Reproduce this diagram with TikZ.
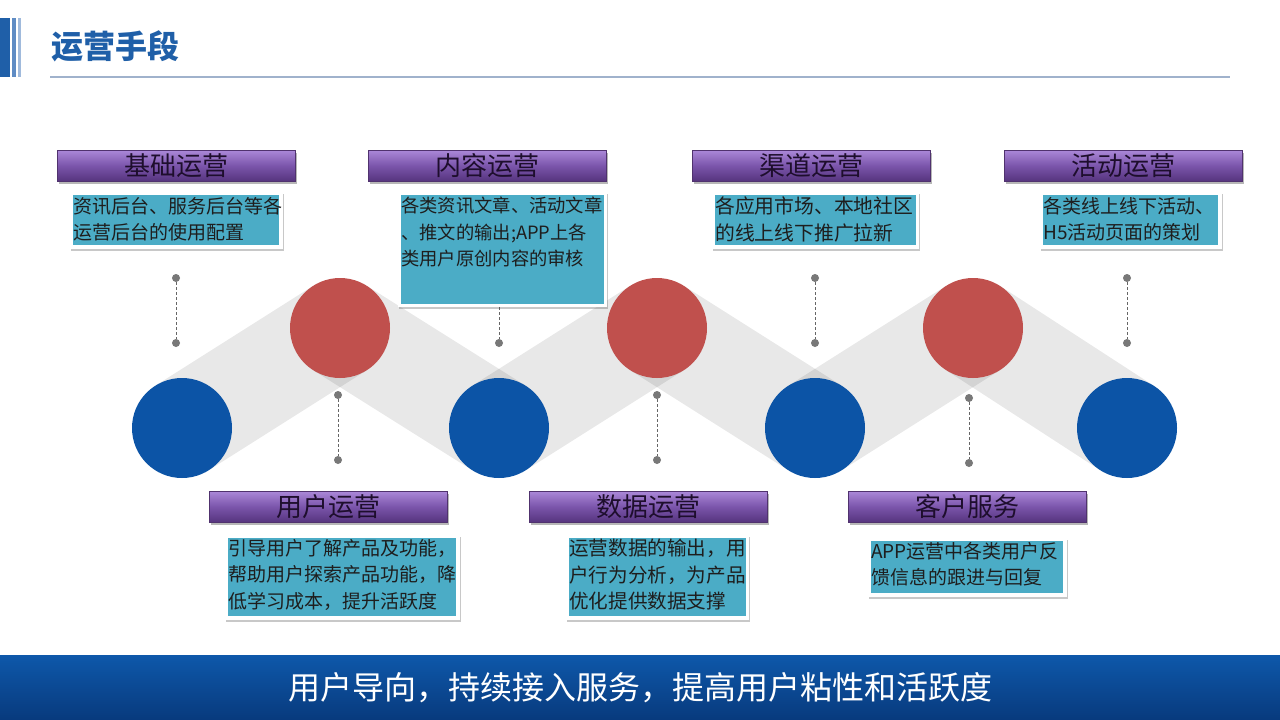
\documentclass[tikz,border=0pt]{standalone}
\usepackage{fontspec}
\setmainfont{Noto Sans CJK SC}
\usetikzlibrary{shadows}
\definecolor{hdrblue}{RGB}{31,95,168}
\definecolor{stripeA}{RGB}{95,140,196}
\definecolor{stripeB}{RGB}{160,186,220}
\definecolor{rulecol}{RGB}{160,178,204}
\definecolor{circblue}{RGB}{12,84,166}
\definecolor{circred}{RGB}{192,80,77}
\definecolor{dotgray}{RGB}{120,120,120}
\definecolor{purpTop}{RGB}{170,135,215}
\definecolor{purpMid}{RGB}{122,84,170}
\definecolor{purpBot}{RGB}{85,52,125}
\definecolor{purpEdge}{RGB}{80,50,110}
\definecolor{purpText}{RGB}{30,14,45}
\definecolor{tealbox}{RGB}{75,172,198}
\definecolor{boxtext}{RGB}{30,30,30}
\definecolor{barTop}{RGB}{14,88,170}
\definecolor{barBot}{RGB}{8,58,125}
\begin{document}
\begin{tikzpicture}[x=1pt,y=-1pt,
  band/.style={line width=100pt,draw=black,draw opacity=0.09},
  bluec/.style={circle,fill=circblue,minimum size=100pt,inner sep=0pt},
  redc/.style={circle,fill=circred,minimum size=100pt,inner sep=0pt},
  dot/.style={circle,fill=dotgray,minimum size=8pt,inner sep=0pt},
  dashline/.style={draw=dotgray!85!black,dashed,line width=0.9pt,dash pattern=on 3pt off 2pt},
  catbar/.style={rectangle,minimum width=238pt,minimum height=31pt,inner sep=0pt,
    top color=purpTop,bottom color=purpBot,middle color=purpMid,draw=purpEdge,line width=0.6pt,
    drop shadow={shadow xshift=1.5pt,shadow yshift=-2pt,opacity=0.4,fill=black!70},
    text=purpText,font=\fontsize{26}{28}\selectfont},
  framebox/.style={rectangle,anchor=north west,fill=white,inner sep=0pt,
    drop shadow={shadow xshift=1pt,shadow yshift=-2pt,opacity=0.3,fill=black!70}},
  tealrect/.style={rectangle,anchor=north west,fill=tealbox,inner sep=0pt},
  boxtxt/.style={anchor=north west,inner sep=0pt,align=left,text=boxtext,
    font=\fontsize{19}{26.5}\selectfont}]
\useasboundingbox (0,0) rectangle (1280,720);
\fill[white] (0,0) rectangle (1280,720);
% header
\fill[hdrblue] (0,18) rectangle (10,77);
\fill[stripeA] (12,18) rectangle (16,77);
\fill[stripeB] (17.5,18) rectangle (20.5,77);
\node[anchor=west,text=hdrblue,inner sep=0pt,font=\fontsize{32}{34}\selectfont\bfseries] (title) at (51,46) {运营手段};
\draw[rulecol,line width=1.2pt] (50,77) -- (1230,77);
% circle centres
\coordinate (cb1) at (182,428);
\coordinate (cr1) at (340,328);
\coordinate (cb2) at (499,428);
\coordinate (cr2) at (657,328);
\coordinate (cb3) at (815,428);
\coordinate (cr3) at (973,328);
\coordinate (cb4) at (1127,428);
% bands
\draw[band] (cb1) -- (cr1);
\draw[band] (cr1) -- (cb2);
\draw[band] (cb2) -- (cr2);
\draw[band] (cr2) -- (cb3);
\draw[band] (cb3) -- (cr3);
\draw[band] (cr3) -- (cb4);
% circles
\node[bluec] (B1) at (cb1) {};
\node[redc] (R1) at (cr1) {};
\node[bluec] (B2) at (cb2) {};
\node[redc] (R2) at (cr2) {};
\node[bluec] (B3) at (cb3) {};
\node[redc] (R3) at (cr3) {};
\node[bluec] (B4) at (cb4) {};
% dashed connectors
\node[dot] (t1a) at (176,278) {}; \node[dot] (t1b) at (176,343) {};
\draw[dashline] (t1a) -- (t1b);
\node[dot] (t2a) at (499,278) {}; \node[dot] (t2b) at (499,343) {};
\draw[dashline] (t2a) -- (t2b);
\node[dot] (t3a) at (815,278) {}; \node[dot] (t3b) at (815,343) {};
\draw[dashline] (t3a) -- (t3b);
\node[dot] (t4a) at (1127,278) {}; \node[dot] (t4b) at (1127,343) {};
\draw[dashline] (t4a) -- (t4b);
\node[dot] (u1a) at (338,395) {}; \node[dot] (u1b) at (338,460) {};
\draw[dashline] (u1a) -- (u1b);
\node[dot] (u2a) at (657,395) {}; \node[dot] (u2b) at (657,460) {};
\draw[dashline] (u2a) -- (u2b);
\node[dot] (u3a) at (969,398) {}; \node[dot] (u3b) at (969,463) {};
\draw[dashline] (u3a) -- (u3b);
% category bars
\node[catbar] (c1) at (176,166) {基础运营};
\node[catbar] (c2) at (487,166) {内容运营};
\node[catbar] (c3) at (811,166) {渠道运营};
\node[catbar] (c4) at (1123,166) {活动运营};
\node[catbar] (c5) at (328,507) {用户运营};
\node[catbar] (c6) at (648,507) {数据运营};
\node[catbar] (c7) at (967,507) {客户服务};
% description boxes
\node[framebox,minimum width=213pt,minimum height=57pt] (f1) at (70,192) {};
\node[tealrect,minimum width=206pt,minimum height=50pt] (k1) at (73,195) {};
\node[boxtxt] (x1) at (73,197) {资讯后台、服务后台等各\\运营后台的使用配置};
\node[framebox,minimum width=209pt,minimum height=115pt] (f2) at (398,192) {};
\node[tealrect,minimum width=203pt,minimum height=109pt] (k2) at (401,195) {};
\node[boxtxt,font=\fontsize{18.3}{26.5}\selectfont] (x2) at (401,197) {各类资讯文章、活动文章\\、推文的输出;APP上各\\类用户原创内容的审核};
\node[framebox,minimum width=207pt,minimum height=57pt] (f3) at (712,192) {};
\node[tealrect,minimum width=201pt,minimum height=50pt] (k3) at (715,195) {};
\node[boxtxt,font=\fontsize{19.8}{26.5}\selectfont] (x3) at (715,197) {各应用市场、本地社区\\的线上线下推广拉新};
\node[framebox,minimum width=182pt,minimum height=57pt] (f4) at (1040,192) {};
\node[tealrect,minimum width=175pt,minimum height=50pt] (k4) at (1043,195) {};
\node[boxtxt] (x4) at (1043,197) {各类线上线下活动、\\H5活动页面的策划};
\node[framebox,minimum width=235pt,minimum height=85pt] (f5) at (225,535) {};
\node[tealrect,minimum width=228pt,minimum height=78pt] (k5) at (228,538) {};
\node[boxtxt] (x5) at (228,539) {引导用户了解产品及功能，\\帮助用户探索产品功能，降\\低学习成本，提升活跃度};
\node[framebox,minimum width=183pt,minimum height=85pt] (f6) at (566,535) {};
\node[tealrect,minimum width=177pt,minimum height=78pt] (k6) at (569,538) {};
\node[boxtxt,font=\fontsize{19.6}{26.5}\selectfont] (x6) at (569,539) {运营数据的输出，用\\户行为分析，为产品\\优化提供数据支撑};
\node[framebox,minimum width=199pt,minimum height=59pt] (f7) at (868,538) {};
\node[tealrect,minimum width=192pt,minimum height=52pt] (k7) at (871,541) {};
\node[boxtxt] (x7) at (871,542) {APP运营中各类用户反\\馈信息的跟进与回复};
% bottom bar
\shade[top color=barTop,bottom color=barBot] (0,655) rectangle (1280,720);
\node[text=white,inner sep=0pt,font=\fontsize{32}{34}\selectfont] (slogan) at (640,688) {用户导向，持续接入服务，提高用户粘性和活跃度};
\end{tikzpicture}
\end{document}
